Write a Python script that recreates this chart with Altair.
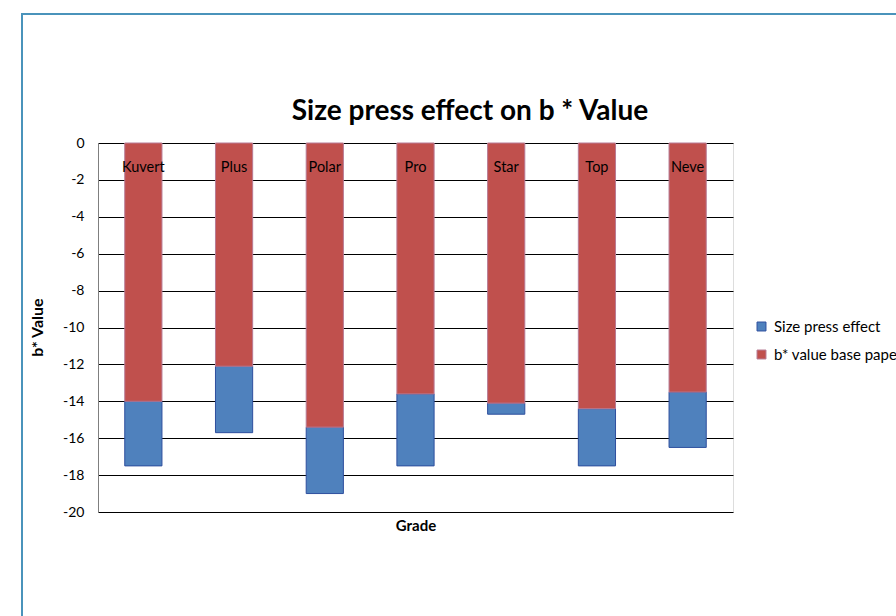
import altair as alt
import pandas as pd

# Paper grades and their b* readings
grades = ["Kuvert", "Plus", "Polar", "Pro", "Star", "Top", "Neve"]
base_paper = [-14.0, -12.1, -15.4, -13.6, -14.1, -14.4, -13.5]
size_press = [-3.5, -3.6, -3.6, -3.9, -0.6, -3.1, -3.0]

series_names = ["Size press effect", "b* value base paper"]
fill_colors = ["#4f81bd", "#c0504d"]
stroke_colors = ["#2e4f9e", "#b77a94"]
y_ticks = list(range(-20, 1, 2))

chart_title = "Size press effect on b * Value"

rows = []
for g, b, s in zip(grades, base_paper, size_press):
    rows.append({"grade": g, "series": series_names[1], "start": 0.0, "end": b})
    rows.append({"grade": g, "series": series_names[0], "start": b, "end": b + s})
df = pd.DataFrame(rows)

FONT = "Lato"

x_enc = alt.X(
    "grade:N",
    sort=grades,
    scale=alt.Scale(paddingInner=0.59, paddingOuter=0.295),
    axis=alt.Axis(
        labels=False, ticks=False, domain=False, grid=False,
        title="Grade", titleFontSize=15, titleFontWeight="bold",
        titleFont=FONT, titleColor="#000000", titlePadding=6,
    ),
)

bars = alt.Chart(df).mark_bar(strokeWidth=1).encode(
    x=x_enc,
    y=alt.Y(
        "start:Q",
        scale=alt.Scale(domain=[-20, 0], nice=False, zero=False),
        axis=alt.Axis(
            values=y_ticks, labelOverlap=False,
            labelExpr="toString(datum.value)",
            ticks=False, domain=True, domainColor="#7f7f7f",
            grid=True, gridColor="#000000", gridWidth=1, gridOpacity=1,
            labelFont=FONT, labelFontSize=14, labelColor="#000000",
            labelPadding=14,
            title="b* Value", titleFont=FONT, titleFontSize=16,
            titleFontWeight="bold", titleColor="#000000",
            titleX=-61, titleY=184, titleAlign="center",
            titleBaseline="middle", titleAngle=-90,
        ),
    ),
    y2="end:Q",
    fill=alt.Fill(
        "series:N",
        scale=alt.Scale(domain=series_names, range=fill_colors),
        legend=alt.Legend(
            title=None, orient="none", legendX=656, legendY=176,
            symbolType="square", symbolSize=80, symbolStrokeWidth=1,
            labelFont=FONT, labelFontSize=15, labelColor="#000000",
            rowPadding=12, labelOffset=5, labelLimit=400,
        ),
    ),
    stroke=alt.Stroke(
        "series:N",
        scale=alt.Scale(domain=series_names, range=stroke_colors),
        legend=None,
    ),
    order=alt.Order("series:N"),
)

# Grade names written inside the top of each bar
labels = alt.Chart(pd.DataFrame({"grade": grades})).mark_text(
    font=FONT, fontSize=14.5, color="#000000", baseline="middle"
).encode(
    x=alt.X("grade:N", sort=grades),
    y=alt.value(25),
    text="grade:N",
)

title_text = alt.Chart(pd.DataFrame({"t": [chart_title]})).mark_text(
    font=FONT, fontSize=28, fontWeight="bold", color="#000000",
    baseline="middle", align="center",
).encode(x=alt.value(372), y=alt.value(-31), text="t:N")

# Outer chart frame (top and left edges)
frame_top = alt.Chart(pd.DataFrame({"k": [0]})).mark_rule(
    color="#4a93bb", strokeWidth=2
).encode(x=alt.value(-76), x2=alt.value(820), y=alt.value(-129))
frame_left = alt.Chart(pd.DataFrame({"k": [0]})).mark_rule(
    color="#4a93bb", strokeWidth=2
).encode(x=alt.value(-76), y=alt.value(-130), y2=alt.value(500))

chart = alt.layer(bars, labels, title_text, frame_top, frame_left).properties(
    width=635,
    height=369,
    autosize=alt.AutoSizeParams(type="none"),
    padding={"left": 98, "top": 143, "right": 163, "bottom": 104},
).configure_view(
    fill="#e6e6e6", stroke=None
).configure(background="#ffffff")

chart.save("out.html", embed_options={"renderer": "svg", "actions": False})
